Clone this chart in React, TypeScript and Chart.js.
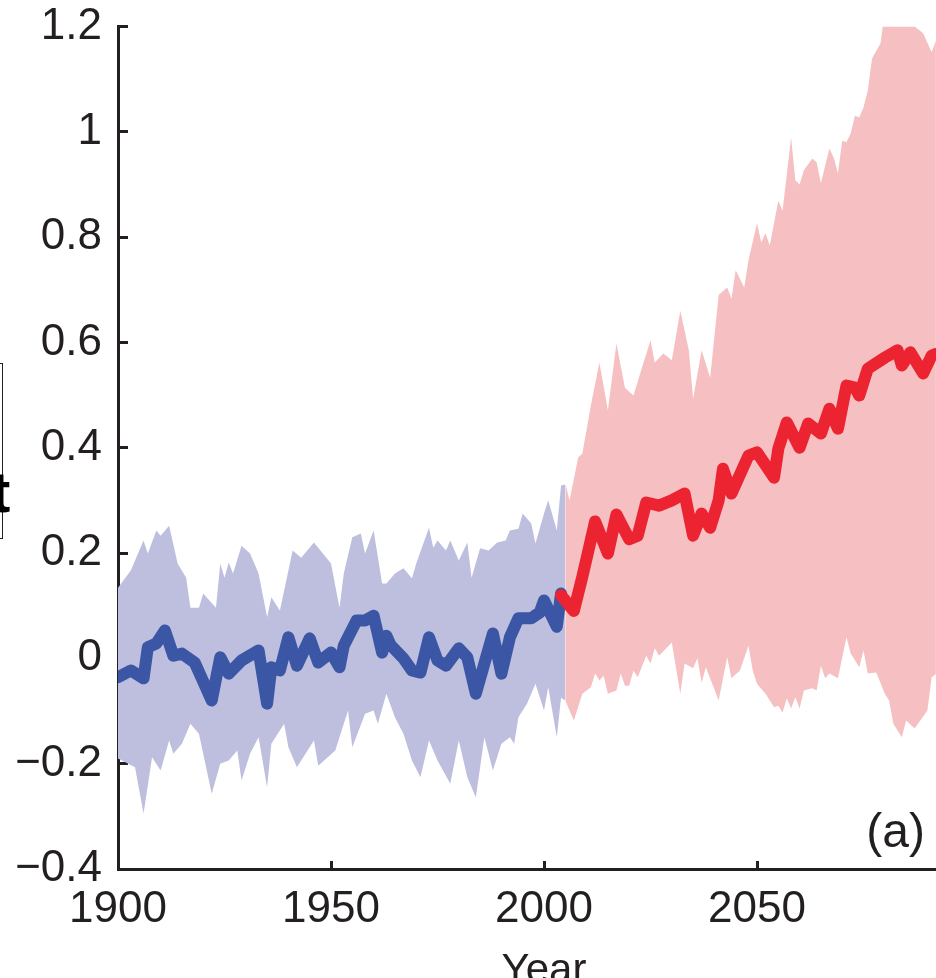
import React, { useEffect, useRef } from "react";
import { Chart, registerables } from "chart.js";

Chart.register(...registerables);

// ---- Data ----
const xTickValues = [1900, 1950, 2000, 2050];
const yTickValues = [-0.4, -0.2, 0, 0.2, 0.4, 0.6, 0.8, 1, 1.2];
const yTickLabels = ["\u22120.4", "\u22120.2", "0", "0.2", "0.4", "0.6", "0.8", "1", "1.2"];

// Historical ensemble mean (blue)
const histYears = [1900, 1903, 1906, 1907, 1909, 1911, 1913, 1915, 1918, 1922, 1924, 1926, 1929, 1933, 1935, 1936, 1938, 1940, 1942, 1945, 1947, 1950, 1952, 1953, 1956, 1958, 1960, 1962, 1963, 1964, 1967, 1969, 1971, 1973, 1975, 1977, 1980, 1982, 1984, 1986, 1988, 1990, 1992, 1994, 1997, 1999, 2000, 2003, 2004];
const histMean = [-0.036, -0.023, -0.038, 0.021, 0.028, 0.053, 0.005, 0.009, -0.008, -0.08, 0.002, -0.029, -0.004, 0.015, -0.086, -0.017, -0.023, 0.04, -0.014, 0.038, -0.008, 0.011, -0.017, 0.024, 0.072, 0.072, 0.081, 0.011, 0.043, 0.025, 0.0, -0.023, -0.027, 0.04, -0.004, -0.014, 0.019, 0.002, -0.067, -0.01, 0.047, -0.029, 0.04, 0.076, 0.076, 0.087, 0.11, 0.06, 0.123];

// Historical spread (blue band)
const histUpperYears = [1900, 1903, 1906, 1907, 1909, 1910, 1912, 1914, 1916, 1917, 1919, 1920, 1923, 1924, 1925, 1926, 1927, 1929, 1931, 1933, 1935, 1936, 1938, 1941, 1943, 1946, 1950, 1952, 1953, 1955, 1957, 1958, 1960, 1962, 1963, 1965, 1967, 1969, 1970, 1973, 1974, 1975, 1977, 1978, 1980, 1982, 1983, 1985, 1987, 1989, 1991, 1992, 1994, 1995, 1997, 1998, 2000, 2001, 2003, 2004, 2005];
const histUpper = [0.134, 0.167, 0.224, 0.199, 0.243, 0.233, 0.252, 0.18, 0.153, 0.096, 0.096, 0.123, 0.096, 0.18, 0.153, 0.182, 0.161, 0.214, 0.199, 0.161, 0.078, 0.116, 0.091, 0.205, 0.191, 0.22, 0.18, 0.096, 0.161, 0.23, 0.237, 0.199, 0.243, 0.142, 0.142, 0.161, 0.171, 0.152, 0.18, 0.248, 0.21, 0.224, 0.205, 0.224, 0.186, 0.22, 0.153, 0.209, 0.205, 0.22, 0.224, 0.243, 0.246, 0.275, 0.256, 0.218, 0.275, 0.3, 0.243, 0.328, 0.33];
const histLowerYears = [1900, 1904, 1906, 1908, 1910, 1912, 1913, 1915, 1917, 1919, 1922, 1924, 1926, 1928, 1929, 1931, 1933, 1935, 1936, 1939, 1940, 1942, 1943, 1946, 1947, 1951, 1954, 1955, 1958, 1960, 1961, 1963, 1965, 1967, 1969, 1971, 1973, 1975, 1978, 1980, 1982, 1984, 1986, 1988, 1990, 1992, 1993, 1994, 1996, 1998, 2000, 2001, 2003, 2004, 2005];
const histLower = [-0.19, -0.207, -0.295, -0.188, -0.213, -0.156, -0.181, -0.162, -0.124, -0.143, -0.257, -0.2, -0.194, -0.175, -0.232, -0.181, -0.15, -0.245, -0.162, -0.124, -0.169, -0.207, -0.194, -0.156, -0.204, -0.175, -0.099, -0.169, -0.105, -0.099, -0.124, -0.067, -0.112, -0.143, -0.194, -0.226, -0.156, -0.194, -0.238, -0.156, -0.226, -0.264, -0.15, -0.213, -0.162, -0.15, -0.162, -0.112, -0.086, -0.048, -0.099, -0.055, -0.15, -0.075, -0.08];

// Projection ensemble mean (red)
const projYears = [2004, 2007, 2009, 2010, 2012, 2015, 2017, 2020, 2022, 2024, 2027, 2030, 2033, 2035, 2037, 2039, 2041, 2042, 2044, 2048, 2050, 2054, 2055, 2057, 2060, 2062, 2065, 2067, 2069, 2071, 2073, 2074, 2076, 2080, 2083, 2084, 2086, 2089, 2091, 2092];
const projMean = [0.12, 0.09, 0.155, 0.19, 0.26, 0.199, 0.273, 0.226, 0.233, 0.296, 0.29, 0.3, 0.313, 0.233, 0.275, 0.248, 0.3, 0.36, 0.313, 0.385, 0.391, 0.343, 0.398, 0.448, 0.4, 0.446, 0.427, 0.474, 0.436, 0.518, 0.514, 0.499, 0.55, 0.571, 0.585, 0.556, 0.581, 0.541, 0.575, 0.578];

// Projection spread (red band)
const projUpperYears = [2005, 2006, 2008, 2009, 2011, 2013, 2015, 2017, 2019, 2021, 2023, 2025, 2026, 2028, 2030, 2032, 2034, 2035, 2037, 2039, 2041, 2043, 2044, 2045, 2047, 2048, 2050, 2051, 2052, 2053, 2055, 2056, 2058, 2059, 2060, 2061, 2063, 2064, 2065, 2067, 2068, 2069, 2070, 2071, 2072, 2073, 2074, 2075, 2076, 2077, 2079, 2080, 2086, 2087, 2089, 2091, 2092];
const projUpper = [0.332, 0.3, 0.381, 0.389, 0.48, 0.562, 0.471, 0.598, 0.514, 0.499, 0.552, 0.604, 0.562, 0.579, 0.566, 0.66, 0.585, 0.493, 0.585, 0.533, 0.69, 0.704, 0.683, 0.737, 0.704, 0.756, 0.826, 0.79, 0.807, 0.784, 0.869, 0.85, 0.989, 0.908, 0.9, 0.927, 0.949, 0.942, 0.902, 0.968, 0.951, 0.921, 0.983, 0.98, 0.997, 1.031, 1.027, 1.046, 1.078, 1.139, 1.168, 1.23, 1.25, 1.2, 1.187, 1.151, 1.173];
const projLowerYears = [2005, 2007, 2009, 2011, 2012, 2013, 2014, 2015, 2017, 2018, 2019, 2020, 2021, 2022, 2024, 2025, 2026, 2027, 2030, 2032, 2033, 2035, 2036, 2037, 2038, 2041, 2043, 2044, 2046, 2048, 2049, 2050, 2052, 2054, 2055, 2056, 2057, 2058, 2059, 2060, 2061, 2063, 2064, 2065, 2066, 2067, 2069, 2071, 2072, 2074, 2075, 2076, 2078, 2080, 2081, 2082, 2084, 2085, 2087, 2088, 2090, 2091, 2092];
const projLower = [-0.08, -0.118, -0.067, -0.055, -0.029, -0.042, -0.033, -0.067, -0.061, -0.029, -0.052, -0.052, -0.023, -0.036, 0.005, -0.01, 0.019, 0.005, 0.03, -0.067, -0.01, -0.019, 0.0, -0.046, -0.017, -0.08, 0.002, -0.038, -0.023, 0.024, -0.023, -0.048, -0.067, -0.093, -0.09, -0.103, -0.076, -0.095, -0.074, -0.095, -0.061, -0.057, -0.061, -0.014, -0.038, -0.029, -0.038, 0.04, 0.009, -0.017, 0.015, -0.029, -0.027, -0.067, -0.08, -0.124, -0.15, -0.118, -0.133, -0.122, -0.099, -0.036, -0.03];

// ---- Styles ----
const AXIS = "#231F20";
const FONT = "'Liberation Sans', Arial, Helvetica, sans-serif";
const BLUE_LINE = "#3A56A5";
const BLUE_BAND = "#BEBFDF";
const RED_LINE = "#EC2330";
const RED_BAND = "#F6C0C2";

// The original axes run to 2100; the picture is cropped at 936 px and at the top.
const CANVAS_W = 970;
const SHIFT = 26;
const CANVAS_H = 978 + SHIFT;

const pts = (xs: number[], ys: number[]) => xs.map((x, i) => ({ x, y: ys[i] }));

const extrasPlugin = {
  id: "extras",
  afterDraw(chart: any) {
    const ctx = chart.ctx;
    ctx.save();
    ctx.translate(0, SHIFT);
    // panel label
    ctx.fillStyle = AXIS;
    ctx.font = `48px ${FONT}`;
    ctx.textAlign = "right";
    ctx.textBaseline = "alphabetic";
    ctx.fillText("(a)", 925, 847);
    // cut-off text box at the left edge
    ctx.strokeStyle = AXIS;
    ctx.lineWidth = 1;
    ctx.strokeRect(-10.5, 363.5, 13, 175);
    ctx.fillStyle = "#000";
    ctx.font = `bold 58px ${FONT}`;
    ctx.textAlign = "left";
    ctx.fillText("t", -9, 512);
    ctx.restore();
  },
};

export default function App() {
  const ref = useRef<HTMLCanvasElement | null>(null);
  useEffect(() => {
    if (!ref.current) return;
    const lineCommon = {
      borderWidth: 12,
      borderCapStyle: "round",
      borderJoinStyle: "round",
      pointRadius: 0,
      tension: 0,
      fill: false,
      clip: 0,
    };
    const bandCommon = {
      borderWidth: 0,
      borderColor: "rgba(0,0,0,0)",
      pointRadius: 0,
      tension: 0,
    };
    const chart = new Chart(ref.current, {
      type: "line",
      data: {
        datasets: [
          { ...lineCommon, label: "Projection mean", data: pts(projYears, projMean), borderColor: RED_LINE } as any,
          { ...lineCommon, label: "Historical mean", data: pts(histYears, histMean), borderColor: BLUE_LINE } as any,
          { ...bandCommon, label: "Projection upper", data: pts(projUpperYears, projUpper), backgroundColor: RED_BAND, fill: "+1" } as any,
          { ...bandCommon, label: "Projection lower", data: pts(projLowerYears, projLower), fill: false } as any,
          { ...bandCommon, label: "Historical upper", data: pts(histUpperYears, histUpper), backgroundColor: BLUE_BAND, fill: "+1" } as any,
          { ...bandCommon, label: "Historical lower", data: pts(histLowerYears, histLower), fill: false } as any,
        ],
      },
      options: {
        responsive: false,
        animation: false,
        devicePixelRatio: 1,
        layout: { padding: { top: 0, right: 0, left: 0, bottom: 0 } },
        plugins: { legend: { display: false }, tooltip: { enabled: false } },
        scales: {
          x: {
            type: "linear",
            min: 1900,
            max: 2100,
            afterBuildTicks: (s: any) => {
              s.ticks = xTickValues.map((v) => ({ value: v }));
            },
            afterFit: (s: any) => {
              s.height = 109;
            },
            grid: { drawOnChartArea: false, drawTicks: true, tickLength: -8, color: AXIS, lineWidth: 3 },
            border: { display: true, color: AXIS, width: 3 },
            ticks: {
              autoSkip: false,
              maxRotation: 0,
              padding: 22,
              color: AXIS,
              font: { family: FONT, size: 44 },
              callback: (v: any) => String(v),
            },
            title: {
              display: true,
              text: "Year",
              color: AXIS,
              font: { family: FONT, size: 42, lineHeight: 0.5 },
              padding: { top: 0, bottom: -4 },
            },
          },
          y: {
            type: "linear",
            min: -0.4,
            max: 1.2,
            afterBuildTicks: (s: any) => {
              s.ticks = yTickValues.map((v) => ({ value: v }));
            },
            afterFit: (s: any) => {
              s.width = 118;
            },
            grid: { drawOnChartArea: false, drawTicks: true, tickLength: -10, color: AXIS, lineWidth: 3 },
            border: { display: true, color: AXIS, width: 3 },
            ticks: {
              padding: 26,
              color: AXIS,
              font: { family: FONT, size: 44 },
              callback: (v: any) => {
                const i = yTickValues.findIndex((t) => Math.abs(t - v) < 1e-6);
                return i >= 0 ? yTickLabels[i] : "";
              },
            },
          },
        },
      } as any,
      plugins: [extrasPlugin],
    });
    return () => chart.destroy();
  }, []);
  return (
    <div style={{ position: "absolute", left: 0, top: 0, width: 936, height: 978, overflow: "hidden", background: "#fff" }}>
      <canvas
        ref={ref}
        width={CANVAS_W}
        height={CANVAS_H}
        style={{ display: "block", position: "absolute", left: 0, top: -SHIFT }}
      />
    </div>
  );
}
